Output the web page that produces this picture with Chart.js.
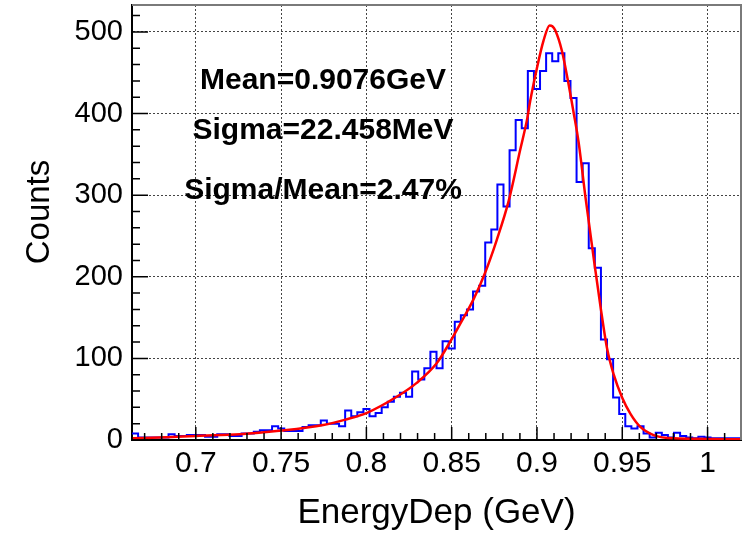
<!DOCTYPE html>
<html>
<head>
<meta charset="utf-8">
<script src="https://cdn.jsdelivr.net/npm/chart.js@4.4.1/dist/chart.umd.min.js"></script>
<style>
  html, body { margin:0; padding:0; background:#fff; }
  #wrap { position:relative; width:750px; height:533px; }
</style>
</head>
<body>
<div id="wrap"><canvas id="chart1" width="750" height="533"></canvas></div>
<script>
// ── DATA ──────────────────────────────────────────────────
const HIST_MIN = 0.6626;
const HIST_MAX = 1.0196;
const HIST_COUNTS = [
  8, 3, 3, 3, 3, 3, 7, 5, 5, 6,
  6, 6, 4, 4, 7, 7, 5, 5, 8, 8,
  10, 12, 12, 17, 14, 11, 11, 11, 16, 18,
  18, 24, 20, 20, 17, 36, 29, 34, 38, 29,
  33, 40, 47, 53, 58, 53, 84, 74, 88, 108,
  88, 121, 112, 145, 153, 160, 182, 189, 242, 258,
  313, 286, 355, 392, 382, 452, 430, 452, 474, 464,
  474, 440, 419, 316, 339, 235, 211, 123, 99, 52,
  32, 17, 14, 17, 8, 3, 9, 6, 3, 9,
  5, 3, 2, 4, 3, 2, 2, 2, 2, 2
];
const FIT_E = [
  0.6631, 0.6829, 0.7004, 0.7258, 0.7503, 0.7747, 0.7877, 0.8000, 0.8178, 0.8295,
  0.8412, 0.8490, 0.8549, 0.8627, 0.8696, 0.8764, 0.8833, 0.8901, 0.8944, 0.8960,
  0.8999, 0.9038, 0.9074, 0.9090, 0.9107, 0.9146, 0.9179, 0.9215, 0.9244, 0.9284,
  0.9333, 0.9372, 0.9411, 0.9450, 0.9499, 0.9548, 0.9606, 0.9684, 0.9802, 1.0192
];
const FIT_COUNTS = [
  2, 3.3, 5, 7, 11.5, 18.4, 25, 33, 53, 70,
  94, 120, 142, 172, 205, 245, 292, 355, 395, 415,
  455, 489, 508, 507, 502, 477, 443, 401, 365, 298,
  222, 164, 112, 80, 52, 32, 16, 6, 2, 1
];
const X_TICKS  = [0.7, 0.75, 0.8, 0.85, 0.9, 0.95, 1.0];
const X_LABELS = ['0.7', '0.75', '0.8', '0.85', '0.9', '0.95', '1'];
const X_MINOR  = [0.67, 0.68, 0.69, 0.71, 0.72, 0.73, 0.74, 0.76, 0.77, 0.78, 0.79,
                  0.81, 0.82, 0.83, 0.84, 0.86, 0.87, 0.88, 0.89, 0.91, 0.92, 0.93, 0.94,
                  0.96, 0.97, 0.98, 0.99, 1.01];
const Y_TICKS  = [0, 100, 200, 300, 400, 500];
const Y_MINOR  = [20, 40, 60, 80, 120, 140, 160, 180, 220, 240, 260, 280,
                  320, 340, 360, 380, 420, 440, 460, 480, 520];
const STATS_TEXT = ['Mean=0.9076GeV', 'Sigma=22.458MeV', 'Sigma/Mean=2.47%'];
const X_TITLE = 'EnergyDep (GeV)';
const Y_TITLE = 'Counts';

const FONT = "'Liberation Sans', Arial, Helvetica, sans-serif";

// histogram as step line: left edge of every bin + closing edge
const binW = (HIST_MAX - HIST_MIN) / HIST_COUNTS.length;
const histPts = HIST_COUNTS.map((c, i) => ({ x: HIST_MIN + i * binW, y: c }));
histPts.push({ x: HIST_MAX, y: HIST_COUNTS[HIST_COUNTS.length - 1] });
const fitPts = FIT_E.map((e, i) => ({ x: e, y: FIT_COUNTS[i] }));

// ── ROOT-style frame, inner ticks and texts ───────────────
const rootFrame = {
  id: 'rootFrame',
  afterDatasetsDraw(chart) {
    const ctx = chart.ctx;
    const { left, right, top, bottom } = chart.chartArea;
    const xs = chart.scales.x, ys = chart.scales.y;
    ctx.save();
    // top / right frame
    ctx.strokeStyle = '#7a7a7a';
    ctx.lineWidth = 2;
    ctx.beginPath();
    ctx.moveTo(left, top); ctx.lineTo(right, top); ctx.lineTo(right, bottom);
    ctx.stroke();
    // ticks
    ctx.strokeStyle = '#000';
    ctx.lineWidth = 1.5;
    ctx.beginPath();
    X_TICKS.forEach(v => { const p = xs.getPixelForValue(v); ctx.moveTo(p, bottom); ctx.lineTo(p, bottom - 13); });
    X_MINOR.forEach(v => { const p = xs.getPixelForValue(v); ctx.moveTo(p, bottom); ctx.lineTo(p, bottom - 7); });
    Y_TICKS.forEach(v => { const p = ys.getPixelForValue(v); ctx.moveTo(left, p); ctx.lineTo(left + 16, p); });
    Y_MINOR.forEach(v => { const p = ys.getPixelForValue(v); ctx.moveTo(left, p); ctx.lineTo(left + 8, p); });
    ctx.stroke();
    // stats text
    ctx.fillStyle = '#000';
    ctx.textAlign = 'center';
    ctx.textBaseline = 'alphabetic';
    ctx.font = 'bold 30px ' + FONT;
    [89, 139, 199].forEach((yb, i) => ctx.fillText(STATS_TEXT[i], 323, yb));
    // axis titles
    ctx.font = '35px ' + FONT;
    ctx.fillText(X_TITLE, (left + right) / 2, 523);
    ctx.translate(49, 212);
    ctx.rotate(-Math.PI / 2);
    ctx.font = '33px ' + FONT;
    ctx.fillText(Y_TITLE, 0, 0);
    ctx.restore();
  }
};

const ctx = document.getElementById('chart1').getContext('2d');
new Chart(ctx, {
  type: 'line',
  data: {
    datasets: [
      {
        label: 'fit', data: fitPts,
        borderColor: '#ff0000', borderWidth: 2.5,
        pointRadius: 0, fill: false, cubicInterpolationMode: 'monotone',
      },
      {
        label: 'hist', data: histPts,
        borderColor: '#0000ff', borderWidth: 2,
        pointRadius: 0, fill: false, stepped: 'before',
      },
    ]
  },
  options: {
    responsive: false,
    animation: false,
    events: [],
    layout: { padding: { top: 5, right: 9, left: 0, bottom: 0 } },
    plugins: { legend: { display: false }, tooltip: { enabled: false } },
    scales: {
      x: {
        type: 'linear', min: HIST_MIN, max: HIST_MAX,
        afterBuildTicks: s => { s.ticks = X_TICKS.map(v => ({ value: v })); },
        afterFit: s => { s.height = 93; s.paddingLeft = 0; s.paddingRight = 0; },
        ticks: {
          callback: (v, i) => X_LABELS[i],
          color: '#000', font: { family: FONT, size: 30 }, padding: 6,
          maxRotation: 0, autoSkip: false,
        },
        grid: { color: '#444', lineWidth: 1, drawTicks: false },
        border: { color: '#000', width: 2, dash: [2, 2] },
      },
      y: {
        min: 0, max: 533,
        afterBuildTicks: s => { s.ticks = Y_TICKS.map(v => ({ value: v })); },
        afterFit: s => { s.width = 132; s.paddingTop = 0; s.paddingBottom = 0; },
        ticks: { color: '#000', font: { family: FONT, size: 29 }, padding: 9 },
        grid: { color: '#444', lineWidth: 1, drawTicks: false },
        border: { color: '#000', width: 2, dash: [2, 2] },
      }
    }
  },
  plugins: [rootFrame]
});
</script>
</body>
</html>
